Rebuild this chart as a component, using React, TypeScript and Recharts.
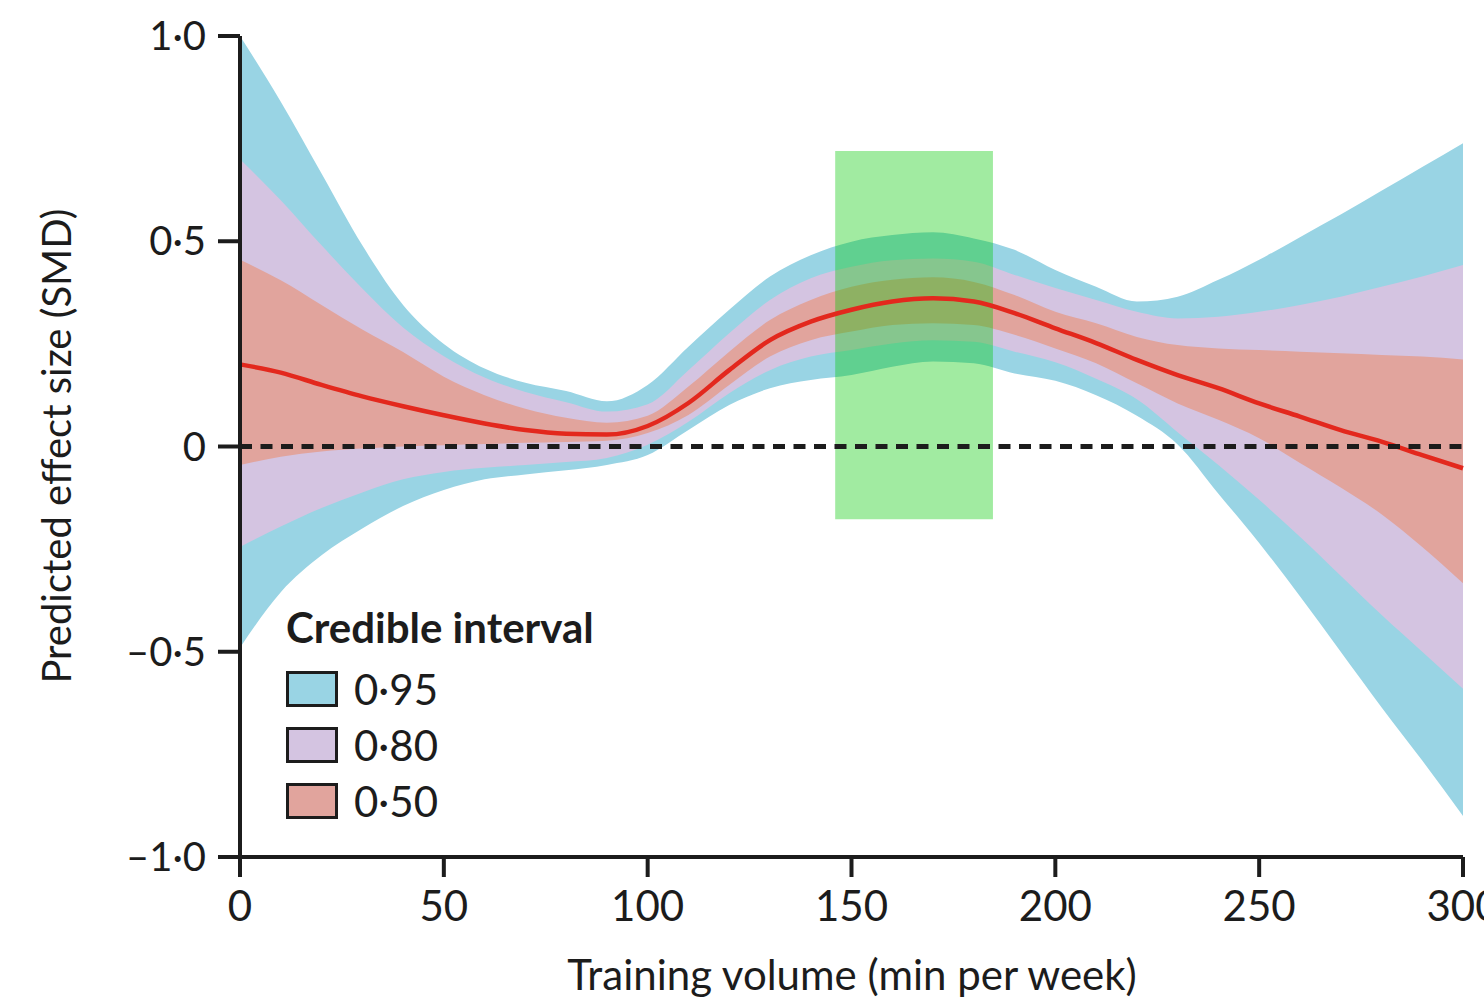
import * as React from 'react';
import {
  Area,
  ComposedChart,
  Legend,
  Line,
  ReferenceArea,
  ReferenceLine,
  XAxis,
  YAxis,
} from 'recharts';

// training volume (min per week)
const X = [
  0, 10, 20, 30, 40, 50, 60, 70, 80, 90, 100, 110, 120, 130, 140, 150, 160, 170, 180, 190, 200,
  210, 220, 230, 240, 250, 260, 270, 280, 290, 300,
];

// credible interval bounds + posterior median (SMD)
const U95 = [
  1.0, 0.84, 0.665, 0.49, 0.345, 0.25, 0.19, 0.155, 0.135, 0.11, 0.15, 0.243, 0.333, 0.414, 0.466,
  0.499, 0.515, 0.522, 0.507, 0.479, 0.43, 0.389, 0.353, 0.365, 0.406, 0.455, 0.51, 0.565, 0.623,
  0.681, 0.739,
];
const U80 = [
  0.7, 0.6, 0.49, 0.385, 0.29, 0.22, 0.168, 0.133, 0.108, 0.085, 0.103, 0.186, 0.276, 0.357, 0.41,
  0.438, 0.454, 0.458, 0.45, 0.418, 0.386, 0.357, 0.328, 0.312, 0.316, 0.328, 0.345, 0.365, 0.389,
  0.414, 0.442,
];
const U50 = [
  0.455, 0.405, 0.345, 0.285, 0.23, 0.17, 0.125, 0.092, 0.07, 0.058, 0.075, 0.146, 0.231, 0.308,
  0.357, 0.389, 0.406, 0.412, 0.401, 0.369, 0.328, 0.3, 0.267, 0.247, 0.239, 0.235, 0.231, 0.227,
  0.223, 0.219, 0.212,
];
const MED = [
  0.2, 0.18, 0.15, 0.122, 0.098, 0.076, 0.056, 0.04, 0.031, 0.029, 0.05, 0.106, 0.186, 0.259, 0.304,
  0.333, 0.353, 0.361, 0.353, 0.325, 0.288, 0.252, 0.211, 0.174, 0.142, 0.105, 0.073, 0.04, 0.012,
  -0.021, -0.053,
];
const L50 = [
  -0.045, -0.025, -0.012, -0.005, 0.0, 0.003, 0.006, 0.009, 0.011, 0.014, 0.033, 0.077, 0.15, 0.219,
  0.259, 0.28, 0.296, 0.3, 0.296, 0.272, 0.239, 0.203, 0.154, 0.105, 0.065, 0.02, -0.04, -0.1,
  -0.165, -0.245, -0.333,
];
const L80 = [
  -0.245, -0.195, -0.15, -0.112, -0.08, -0.062, -0.052, -0.045, -0.038, -0.028, 0.004, 0.06, 0.13,
  0.186, 0.219, 0.235, 0.251, 0.259, 0.255, 0.231, 0.205, 0.165, 0.115, 0.035, -0.045, -0.13,
  -0.22, -0.315, -0.41, -0.5, -0.59,
];
const L95 = [
  -0.49, -0.355, -0.265, -0.2, -0.145, -0.106, -0.08, -0.068, -0.058, -0.045, -0.021, 0.04, 0.101,
  0.142, 0.162, 0.174, 0.194, 0.207, 0.203, 0.178, 0.16, 0.125, 0.075, 0.005, -0.115, -0.235,
  -0.365, -0.5, -0.635, -0.765, -0.9,
];

// highlighted optimal-volume window
const HIGHLIGHT_X = [146, 184.7];
const HIGHLIGHT_Y = [-0.177, 0.72];

const X_TICKS = [0, 50, 100, 150, 200, 250, 300];
const Y_TICKS = [-1, -0.5, 0, 0.5, 1];
const Y_TICK_LABELS = ['–1·0', '–0·5', '0', '0·5', '1·0'];

const BLUE = '#99d4e4';
const PURPLE = '#d4c4e1';
const SALMON = '#e1a49d';
const RED = '#e3281d';
const INK = '#1c1c1c';
const FONT = 'Lato, "Open Sans", sans-serif';

const LEGEND_TITLE = 'Credible interval';
const LEGEND_ITEMS = [
  { label: '0·95', color: BLUE },
  { label: '0·80', color: PURPLE },
  { label: '0·50', color: SALMON },
];

const rows = X.map((x, i) => ({
  x,
  b95: [L95[i], U95[i]],
  b80: [L80[i], U80[i]],
  b50: [L50[i], U50[i]],
  med: MED[i],
}));

function CredibleLegend(): React.JSX.Element {
  return (
    <div style={{ fontFamily: FONT, color: INK }}>
      <div style={{ fontSize: 42, fontWeight: 700, lineHeight: '48px', height: 58 }}>
        {LEGEND_TITLE}
      </div>
      {LEGEND_ITEMS.map((it) => (
        <div key={it.label} style={{ display: 'flex', alignItems: 'center', height: 56 }}>
          <span
            style={{
              display: 'inline-block',
              boxSizing: 'border-box',
              width: 52,
              height: 36,
              background: it.color,
              border: `3.5px solid ${INK}`,
              marginRight: 16,
            }}
          />
          <span style={{ fontSize: 42, lineHeight: '56px' }}>{it.label}</span>
        </div>
      ))}
    </div>
  );
}

export default function App(): React.JSX.Element {
  const tick = { fill: INK, fontSize: 40, fontFamily: FONT };
  return (
    <div
      style={{
        position: 'absolute',
        left: 0,
        top: 0,
        width: 1484,
        height: 998,
        overflow: 'hidden',
        background: '#fff',
      }}
    >
      <ComposedChart
        width={1520}
        height={998}
        data={rows}
        margin={{ top: 36, right: 57, bottom: 0, left: 0 }}
      >
        <XAxis
          dataKey="x"
          type="number"
          domain={[0, 300]}
          ticks={X_TICKS}
          interval={0}
          stroke={INK}
          strokeWidth={4}
          tickSize={20}
          tickMargin={14}
          height={141}
          tick={{ ...tick, fontSize: 42 }}
          label={{
            content: () => (
              <text
                x={852}
                y={990}
                textAnchor="middle"
                fill={INK}
                fontSize={42}
                fontFamily={FONT}
              >
                Training volume (min per week)
              </text>
            ),
          }}
        />
        <YAxis
          type="number"
          domain={[-1, 1]}
          ticks={Y_TICKS}
          interval={0}
          width={240}
          stroke={INK}
          strokeWidth={4}
          tickSize={22}
          tickMargin={12}
          tick={tick}
          tickFormatter={(v: number) => Y_TICK_LABELS[Y_TICKS.indexOf(v)] ?? String(v)}
          label={{
            content: () => (
              <text
                x={56}
                y={446}
                transform="rotate(-90, 56, 446)"
                textAnchor="middle"
                dominantBaseline="central"
                fill={INK}
                fontSize={40}
                fontFamily={FONT}
              >
                Predicted effect size (SMD)
              </text>
            ),
          }}
        />
        <Area
          type="monotone"
          dataKey="b95"
          stroke="none"
          fill={BLUE}
          fillOpacity={1}
          isAnimationActive={false}
        />
        <Area
          type="monotone"
          dataKey="b80"
          stroke="none"
          fill={PURPLE}
          fillOpacity={1}
          isAnimationActive={false}
        />
        <Area
          type="monotone"
          dataKey="b50"
          stroke="none"
          fill={SALMON}
          fillOpacity={1}
          isAnimationActive={false}
        />
        <Line
          type="monotone"
          dataKey="med"
          stroke={RED}
          strokeWidth={4.5}
          dot={false}
          activeDot={false}
          isAnimationActive={false}
        />
        <ReferenceLine y={0} stroke={INK} strokeWidth={5} strokeDasharray="12 8.5" />
        <ReferenceArea
          x1={HIGHLIGHT_X[0]}
          x2={HIGHLIGHT_X[1]}
          y1={HIGHLIGHT_Y[0]}
          y2={HIGHLIGHT_Y[1]}
          fill="#00c800"
          fillOpacity={0.37}
          stroke="none"
        />
        <Legend
          layout="horizontal"
          verticalAlign="middle"
          align="center"
          wrapperStyle={{ left: 286, top: 603, width: 400 }}
          content={() => <CredibleLegend />}
        />
      </ComposedChart>
    </div>
  );
}
